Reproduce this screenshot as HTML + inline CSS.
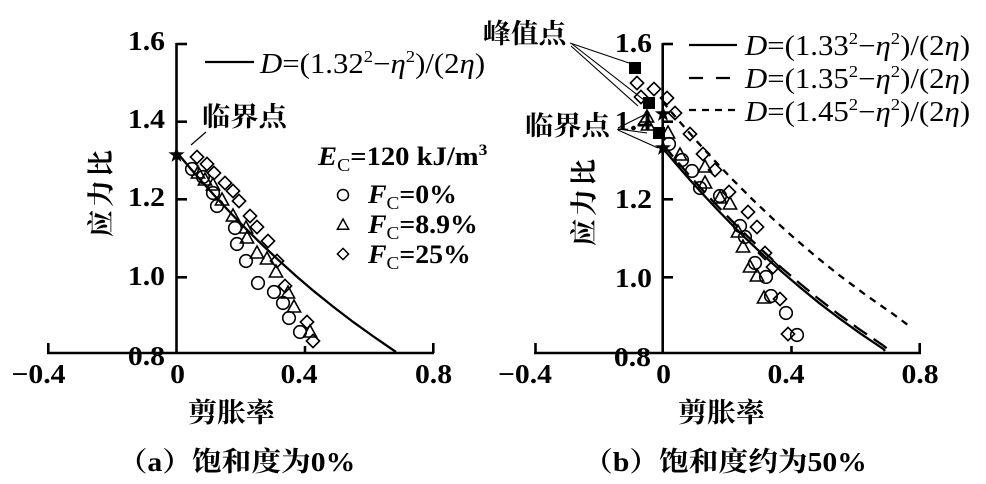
<!DOCTYPE html>
<html>
<head>
<meta charset="utf-8">
<style>
  html,body{margin:0;padding:0;background:#fff;}
  svg{display:block;}
  .tk{font-family:"Liberation Serif",serif;font-weight:bold;font-size:27px;fill:#000;}
  .fm{font-family:"Liberation Serif",serif;font-size:28px;fill:#000;}
  .lg{font-family:"Liberation Serif",serif;font-weight:bold;font-size:26px;fill:#000;}
  .cj{font-family:"Liberation Serif","Noto Serif CJK SC","Noto Sans CJK SC",serif;font-weight:bold;font-size:27px;fill:#000;}
  .cp{font-family:"Liberation Serif","Noto Serif CJK SC","Noto Sans CJK SC",serif;font-weight:bold;font-size:27px;fill:#000;}
</style>
</head>
<body>
<svg width="986" height="484" viewBox="0 0 986 484" xmlns="http://www.w3.org/2000/svg">
  <defs>
    <path id="tri" d="M0,-7 L6.6,5 L-6.6,5 Z"/>
    <path id="dia" d="M0,-6.6 L6.6,0 L0,6.6 L-6.6,0 Z"/>
    <circle id="cir" cx="0" cy="0" r="6.3"/>
    <path id="star" d="M0,-8.5 L2,-2.75 L8.1,-2.6 L3.2,1.05 L5,6.9 L0,3.4 L-5,6.9 L-3.2,1.05 L-8.1,-2.6 L-2,-2.75 Z"/>
    <rect id="sq" x="-6" y="-6" width="12" height="12"/>
    <path id="ltri" d="M0,-6 L5.6,4.2 L-5.6,4.2 Z"/>
    <path id="ldia" d="M0,-5.6 L5.6,0 L0,5.6 L-5.6,0 Z"/>
  </defs>

  <!-- ===== LEFT PANEL ===== -->
  <g stroke="#000" stroke-width="2.6" fill="none">
    <line x1="176.5" y1="43" x2="176.5" y2="353"/>
    <line x1="47" y1="353" x2="434" y2="353"/>
    <line x1="176.5" y1="44" x2="187" y2="44"/>
    <line x1="176.5" y1="121.7" x2="187" y2="121.7"/>
    <line x1="176.5" y1="199.3" x2="187" y2="199.3"/>
    <line x1="176.5" y1="277.3" x2="187" y2="277.3"/>
    <line x1="48.3" y1="353" x2="48.3" y2="343"/>
    <line x1="305" y1="353" x2="305" y2="346"/>
    <line x1="433.3" y1="353" x2="433.3" y2="343"/>
  </g>
  <polyline fill="none" stroke="#000" stroke-width="2.3" points="176.5,152 189.6,167.5 203,182.9 217,198.4 231.5,213.9 246.5,229.3 262.2,244.8 278.6,260.2 295.8,275.7 313.9,291.2 333.1,306.6 353.3,322.1 374.9,337.5 396,352"/>
  <g stroke="#000" stroke-width="1.6" fill="none">
    <use href="#dia" x="197" y="157"/><use href="#dia" x="207" y="164"/><use href="#dia" x="214" y="173"/><use href="#dia" x="225" y="183"/><use href="#dia" x="233" y="191"/><use href="#dia" x="239" y="201"/><use href="#dia" x="250" y="216"/><use href="#dia" x="257" y="227"/><use href="#dia" x="268" y="241"/><use href="#dia" x="277" y="261"/><use href="#dia" x="285" y="286"/><use href="#dia" x="307" y="322"/><use href="#dia" x="313" y="341"/>
    <use href="#cir" x="192" y="169"/><use href="#cir" x="203" y="177"/><use href="#cir" x="213" y="193"/><use href="#cir" x="217" y="206"/><use href="#cir" x="235" y="228"/><use href="#cir" x="237" y="244"/><use href="#cir" x="246" y="261"/><use href="#cir" x="258" y="283"/><use href="#cir" x="274" y="292"/><use href="#cir" x="283" y="303"/><use href="#cir" x="289" y="318"/><use href="#cir" x="300" y="332"/>
    <use href="#tri" x="198" y="173"/><use href="#tri" x="205" y="180"/><use href="#tri" x="213" y="185"/><use href="#tri" x="222" y="200"/><use href="#tri" x="233" y="216"/><use href="#tri" x="246" y="228"/><use href="#tri" x="247" y="238"/><use href="#tri" x="257" y="253"/><use href="#tri" x="267" y="259"/><use href="#tri" x="276" y="272"/><use href="#tri" x="288" y="293"/><use href="#tri" x="294" y="307"/><use href="#tri" x="310" y="332"/>
  </g>
  <use href="#star" x="176.5" y="155" fill="#000"/>
  <line x1="191" y1="145" x2="206" y2="132" stroke="#000" stroke-width="1.2"/>

  <g class="tk">
    <text transform="translate(165,50) scale(1.1,1)" text-anchor="end">1.6</text>
    <text transform="translate(165,128) scale(1.1,1)" text-anchor="end">1.4</text>
    <text transform="translate(165,206) scale(1.1,1)" text-anchor="end">1.2</text>
    <text transform="translate(165,285) scale(1.1,1)" text-anchor="end">1.0</text>
    <text transform="translate(165,365) scale(1.1,1)" text-anchor="end">0.8</text>
    <text transform="translate(38.5,383) scale(1.1,1)" text-anchor="middle">−0.4</text>
    <text transform="translate(177.5,383) scale(1.1,1)" text-anchor="middle">0</text>
    <text transform="translate(299,383) scale(1.1,1)" text-anchor="middle">0.4</text>
    <text transform="translate(433.5,383) scale(1.1,1)" text-anchor="middle">0.8</text>
  </g>

  <line x1="205" y1="62" x2="254" y2="62" stroke="#000" stroke-width="2.3"/>
  <text class="fm" transform="translate(260,73) scale(1.1,1)"><tspan font-style="italic">D</tspan>=(1.32<tspan font-size="17" dy="-11">2</tspan><tspan dy="11">−</tspan><tspan font-style="italic">η</tspan><tspan font-size="17" dy="-11">2</tspan><tspan dy="11">)/(2</tspan><tspan font-style="italic">η</tspan>)</text>

  <text class="lg" transform="translate(318,165) scale(1.1,1)"><tspan font-style="italic">E</tspan><tspan font-size="18" font-weight="normal" dy="6">C</tspan><tspan dy="-6">=120 kJ/m</tspan><tspan font-size="16" dy="-10">3</tspan></text>
  <g stroke="#000" stroke-width="1.5" fill="none">
    <circle cx="343" cy="195" r="5.5"/>
    <use href="#ltri" x="343" y="225"/>
    <use href="#ldia" x="343" y="254"/>
  </g>
  <text class="lg" transform="translate(368,203) scale(1.07,1)"><tspan font-style="italic">F</tspan><tspan font-size="18" font-weight="normal" dy="6">C</tspan><tspan dy="-6">=0%</tspan></text>
  <text class="lg" transform="translate(368,233) scale(1.07,1)"><tspan font-style="italic">F</tspan><tspan font-size="18" font-weight="normal" dy="6">C</tspan><tspan dy="-6">=8.9%</tspan></text>
  <text class="lg" transform="translate(368,263) scale(1.07,1)"><tspan font-style="italic">F</tspan><tspan font-size="18" font-weight="normal" dy="6">C</tspan><tspan dy="-6">=25%</tspan></text>

  <text class="cj" transform="translate(202,126) scale(1.05,1)">临界点</text>
  <text class="cj" transform="translate(101.5,192) rotate(-90)" text-anchor="middle" dominant-baseline="central" letter-spacing="3">应力比</text>
  <text class="cj" transform="translate(231.5,422) scale(1.07,1)" text-anchor="middle">剪胀率</text>
  <text class="cp" transform="translate(236.5,471) scale(1.1,1)" text-anchor="middle">（a）饱和度为0%</text>

  <!-- ===== RIGHT PANEL ===== -->
  <g stroke="#000" stroke-width="2.6" fill="none">
    <line x1="662.7" y1="43" x2="662.7" y2="353"/>
    <line x1="534" y1="353" x2="921" y2="353"/>
    <line x1="662.7" y1="44" x2="673" y2="44"/>
    <line x1="662.7" y1="121.7" x2="673" y2="121.7"/>
    <line x1="662.7" y1="199.3" x2="673" y2="199.3"/>
    <line x1="662.7" y1="277.3" x2="673" y2="277.3"/>
    <line x1="535.5" y1="353" x2="535.5" y2="343"/>
    <line x1="791.5" y1="353" x2="791.5" y2="346"/>
    <line x1="919.7" y1="353" x2="919.7" y2="343"/>
  </g>
  <polyline fill="none" stroke="#000" stroke-width="2.3" points="662.7,148.1 675.8,163.6 689.2,179.1 703.2,194.5 717.7,210 732.7,225.5 748.4,240.9 764.7,256.4 781.9,271.8 799.9,287.3 818.9,302.8 839.1,318.2 860.6,333.7 883.5,349.1 885,351"/>
  <polyline fill="none" stroke="#000" stroke-width="2.3" stroke-dasharray="16 8" points="662.7,144.3 675.8,159.8 689.2,175.2 703.2,190.7 717.6,206.1 732.6,221.6 748.3,237.05 764.6,252.5 781.7,268 799.7,283.4 818.7,298.9 838.7,314.35 860.1,329.8 882.9,345.3 890,351"/>
  <polyline fill="none" stroke="#000" stroke-width="2.3" stroke-dasharray="7 6" points="662.7,101.8 679.1,121.1 696,140.4 713.7,159.75 732.1,179.1 751.4,198.4 771.7,217.7 793.1,237.05 815.8,256.4 839.9,275.7 865.8,295 893.5,314.35 912,328"/>

  <g stroke="#000" stroke-width="1.6" fill="none">
    <use href="#dia" x="637" y="83"/><use href="#dia" x="641" y="97"/><use href="#dia" x="654" y="89"/><use href="#dia" x="667" y="98"/><use href="#dia" x="675" y="113"/><use href="#dia" x="690" y="134"/><use href="#dia" x="703" y="154"/><use href="#dia" x="715" y="170"/><use href="#dia" x="729" y="192"/><use href="#dia" x="748" y="212"/><use href="#dia" x="757" y="227"/><use href="#dia" x="765" y="253"/><use href="#dia" x="773" y="267"/><use href="#dia" x="780" y="299"/><use href="#dia" x="788" y="334"/>
    <use href="#tri" x="647" y="117"/><use href="#tri" x="648" y="125"/><use href="#tri" x="668" y="133"/><use href="#tri" x="680" y="155"/><use href="#tri" x="705" y="167"/><use href="#tri" x="705" y="183"/><use href="#tri" x="720" y="198"/><use href="#tri" x="730" y="204"/><use href="#tri" x="738" y="232"/><use href="#tri" x="743" y="247"/><use href="#tri" x="750" y="267"/><use href="#tri" x="757" y="276"/><use href="#tri" x="764" y="298"/>
    <use href="#cir" x="669" y="144"/><use href="#cir" x="682" y="160"/><use href="#cir" x="692" y="171"/><use href="#cir" x="700" y="188"/><use href="#cir" x="720" y="196"/><use href="#cir" x="740" y="226"/><use href="#cir" x="745" y="237"/><use href="#cir" x="755" y="263"/><use href="#cir" x="766" y="277"/><use href="#cir" x="771" y="296"/><use href="#cir" x="786" y="313"/><use href="#cir" x="797" y="335"/>
  </g>
  <g fill="#000">
    <use href="#sq" x="635" y="68"/>
    <use href="#sq" x="649" y="103"/>
    <use href="#sq" x="659" y="133"/>
    <use href="#star" x="663" y="114"/>
    <use href="#star" x="663" y="148"/>
  </g>
  <g stroke="#000" stroke-width="1.1" fill="none">
    <line x1="570" y1="43" x2="629" y2="63"/>
    <line x1="571" y1="46" x2="638" y2="106"/>
    <line x1="572" y1="44" x2="644" y2="100"/>
    <line x1="618" y1="128" x2="648" y2="113"/>
    <line x1="618" y1="129" x2="647" y2="133"/>
    <line x1="618" y1="130" x2="658" y2="148"/>
  </g>

  <g class="tk">
    <text transform="translate(652,52) scale(1.1,1)" text-anchor="end">1.6</text>
    <text transform="translate(652,130) scale(1.1,1)" text-anchor="end">1.4</text>
    <text transform="translate(652,208) scale(1.1,1)" text-anchor="end">1.2</text>
    <text transform="translate(652,287) scale(1.1,1)" text-anchor="end">1.0</text>
    <text transform="translate(651,366) scale(1.1,1)" text-anchor="end">0.8</text>
    <text transform="translate(525,383) scale(1.1,1)" text-anchor="middle">−0.4</text>
    <text transform="translate(663.5,383) scale(1.1,1)" text-anchor="middle">0</text>
    <text transform="translate(786,383) scale(1.1,1)" text-anchor="middle">0.4</text>
    <text transform="translate(920,383) scale(1.1,1)" text-anchor="middle">0.8</text>
  </g>

  <line x1="689" y1="45" x2="737" y2="45" stroke="#000" stroke-width="2.3"/>
  <line x1="689" y1="78" x2="739" y2="78" stroke="#000" stroke-width="2.3" stroke-dasharray="14 13"/>
  <line x1="689" y1="110" x2="740" y2="110" stroke="#000" stroke-width="2.3" stroke-dasharray="7 6"/>
  <text class="fm" transform="translate(745,55) scale(1.1,1)"><tspan font-style="italic">D</tspan>=(1.33<tspan font-size="17" dy="-11">2</tspan><tspan dy="11">−</tspan><tspan font-style="italic">η</tspan><tspan font-size="17" dy="-11">2</tspan><tspan dy="11">)/(2</tspan><tspan font-style="italic">η</tspan>)</text>
  <text class="fm" transform="translate(745,88) scale(1.1,1)"><tspan font-style="italic">D</tspan>=(1.35<tspan font-size="17" dy="-11">2</tspan><tspan dy="11">−</tspan><tspan font-style="italic">η</tspan><tspan font-size="17" dy="-11">2</tspan><tspan dy="11">)/(2</tspan><tspan font-style="italic">η</tspan>)</text>
  <text class="fm" transform="translate(745,121) scale(1.1,1)"><tspan font-style="italic">D</tspan>=(1.45<tspan font-size="17" dy="-11">2</tspan><tspan dy="11">−</tspan><tspan font-style="italic">η</tspan><tspan font-size="17" dy="-11">2</tspan><tspan dy="11">)/(2</tspan><tspan font-style="italic">η</tspan>)</text>

  <text class="cj" transform="translate(483,43) scale(1.03,1)">峰值点</text>
  <text class="cj" transform="translate(525,135) scale(1.05,1)">临界点</text>
  <text class="cj" transform="translate(584.5,201) rotate(-90)" text-anchor="middle" dominant-baseline="central" letter-spacing="3">应力比</text>
  <text class="cj" transform="translate(721.5,422) scale(1.07,1)" text-anchor="middle">剪胀率</text>
  <text class="cp" transform="translate(725,471) scale(1.1,1)" text-anchor="middle">（b）饱和度约为50%</text>
</svg>
</body>
</html>
